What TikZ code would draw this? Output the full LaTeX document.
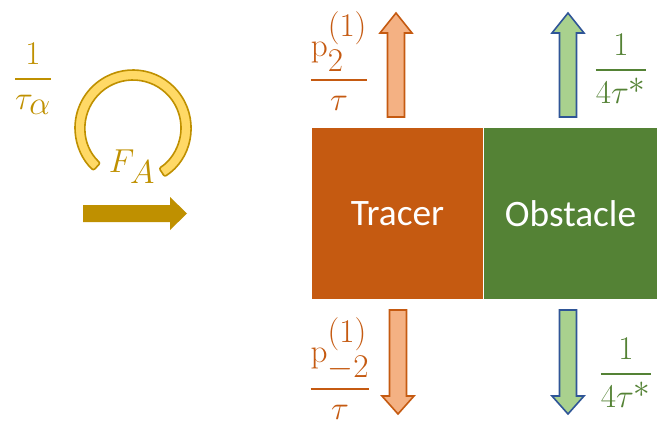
\documentclass[tikz,border=0pt]{standalone}
\usepackage{amsmath}
\usepackage[no-math]{fontspec}
\setmainfont{Carlito}
\usetikzlibrary{positioning}
\definecolor{tracerfill}{RGB}{197,90,17}
\definecolor{obstfill}{RGB}{84,130,53}
\definecolor{tracerlight}{RGB}{244,177,131}
\definecolor{obstlight}{RGB}{169,209,142}
\definecolor{obstedge}{RGB}{47,85,151}
\definecolor{gold}{RGB}{191,144,0}
\definecolor{goldlight}{RGB}{255,217,102}
\newcommand{\ratefrac}[2]{\genfrac{}{}{1.8pt}{0}{#1}{#2}}
\tikzset{
  body/.style={rectangle, inner sep=0pt, text=white,
               minimum height=128.25pt, font=\fontsize{28}{34}\selectfont},
  rate/.style={anchor=base, yshift=-9pt, inner sep=0pt,
               font=\fontsize{36}{42}\selectfont},
  tracerarr/.style={draw=tracerfill, fill=tracerlight, line width=1.2pt},
  obstarr/.style={draw=obstedge, fill=obstlight, line width=1.2pt},
  forcearr/.style={fill=gold},
  ringstyle/.style={draw=gold, fill=goldlight, line width=1.2pt,
                    rounded corners=1.5pt},
}
\begin{document}
\begin{tikzpicture}[x=0.75pt, y=0.75pt]
  \useasboundingbox (0,0) rectangle (657,426);

  % tracer and obstacle
  \node[body, fill=tracerfill, minimum width=128.25pt] (tracer) at (397.5,212.5) {Tracer};
  \node[body, fill=obstfill, minimum width=130.5pt, right=0pt of tracer] (obst) {Obstacle};

  % hopping arrows
  \draw[tracerarr] (387.5,309) -- (387.5,393) -- (380,393) -- (396,413)
                   -- (412,393) -- (404.5,393) -- (404.5,309) -- cycle;
  \draw[obstarr]   (559.5,309) -- (559.5,393) -- (552,393) -- (568,413)
                   -- (584,393) -- (576.5,393) -- (576.5,309) -- cycle;
  \draw[tracerarr] (389.5,116) -- (389.5,30) -- (382,30) -- (398,12)
                   -- (414,30) -- (406.5,30) -- (406.5,116) -- cycle;
  \draw[obstarr]   (559.5,116) -- (559.5,30) -- (552,30) -- (568,12)
                   -- (584,30) -- (576.5,30) -- (576.5,116) -- cycle;

  % rates
  \node[rate, text=tracerfill] (upT) at (339,350)
    {$\ratefrac{\mathrm{p}_2^{(1)}}{\tau}$};
  \node[rate, text=obstfill] (upO) at (621,360)
    {$\ratefrac{1}{4\tau^{*}}$};
  \node[rate, text=tracerfill] (downT) at (340,41)
    {$\ratefrac{\mathrm{p}_{-2}^{(1)}}{\tau}$};
  \node[rate, text=obstfill] (downO) at (626,56)
    {$\ratefrac{1}{4\tau^{*}}$};

  % active rotation and force
  \coordinate (ring) at (133,298);
  \draw[ringstyle] ([shift={(-57:58)}]ring) arc[start angle=-57, end angle=227, radius=58]
    -- ([shift={(227:48)}]ring) arc[start angle=227, end angle=-57, radius=48] -- cycle;
  \node[rate, text=gold] (tauA) at (33,351) {$\ratefrac{1}{\tau_\alpha}$};
  \node[text=gold, font=\fontsize{36}{42}\selectfont, inner sep=0pt] (FA) at (132,259) {$F_A$};
  \fill[forcearr] (83,221) -- (170,221) -- (170,229) -- (187,212.5)
                  -- (170,196) -- (170,204) -- (83,204) -- cycle;
\end{tikzpicture}
\end{document}
